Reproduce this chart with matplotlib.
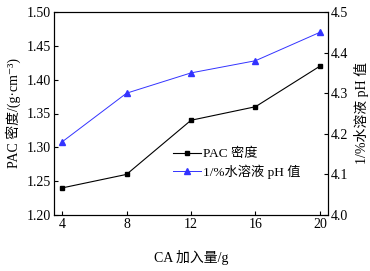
import matplotlib
matplotlib.use("Agg")
import matplotlib.pyplot as plt

plt.rcParams['font.family'] = ['Liberation Serif', 'Noto Sans CJK SC', 'DejaVu Sans']

ca = [4, 8, 12, 16, 20]
density = [1.24, 1.26, 1.34, 1.36, 1.42]
ph = [4.18, 4.30, 4.35, 4.38, 4.45]
xticks = [4, 8, 12, 16, 20]

fig = plt.figure(figsize=(3.7, 2.71), dpi=100)
ax = fig.add_axes([54/370, 1-215/271, (328-54)/370, (215-12)/271])
ax2 = ax.twinx()

l1, = ax.plot(ca, density, color='black', marker='s', markersize=3.5, lw=0.8, label='PAC 密度')
l2, = ax2.plot(ca, ph, color='#3333ff', marker='^', markersize=3.8, lw=0.7, label='1/%水溶液 pH 值')

ax.set_xlim(3.5, 20.5)
ax.set_ylim(1.20, 1.50)
ax.set_yticks([1.20, 1.25, 1.30, 1.35, 1.40, 1.45, 1.50])
ax.set_yticklabels(['1.20', '1.25', '1.30', '1.35', '1.40', '1.45', '1.50'])
ax.set_xticks(xticks)
ax2.set_ylim(4.0, 4.5)
ax2.set_yticks([4.0, 4.1, 4.2, 4.3, 4.4, 4.5])
ax2.set_yticklabels(['4.0', '4.1', '4.2', '4.3', '4.4', '4.5'])

for a in (ax, ax2):
    a.tick_params(direction='in', labelsize=10, length=3, width=0.8, pad=2)
    for s in a.spines.values():
        s.set_linewidth(0.8)

ax.set_xlabel('CA 加入量/g', fontsize=10, labelpad=14)
ax.set_ylabel('PAC 密度/(g·cm⁻³)', fontsize=10, labelpad=4)
ax2.set_ylabel('1/%水溶液 pH 值', fontsize=10, labelpad=4)

fig.legend([l1, l2], ['PAC 密度', '1/%水溶液 pH 值'], loc='center left',
           bbox_to_anchor=(173/370, 1-163.5/271), bbox_transform=fig.transFigure,
           frameon=False, fontsize=9.5, borderpad=0, borderaxespad=0,
           handlelength=2.1, handletextpad=0.15, labelspacing=0.3)

fig.savefig('out.png', dpi=100)
